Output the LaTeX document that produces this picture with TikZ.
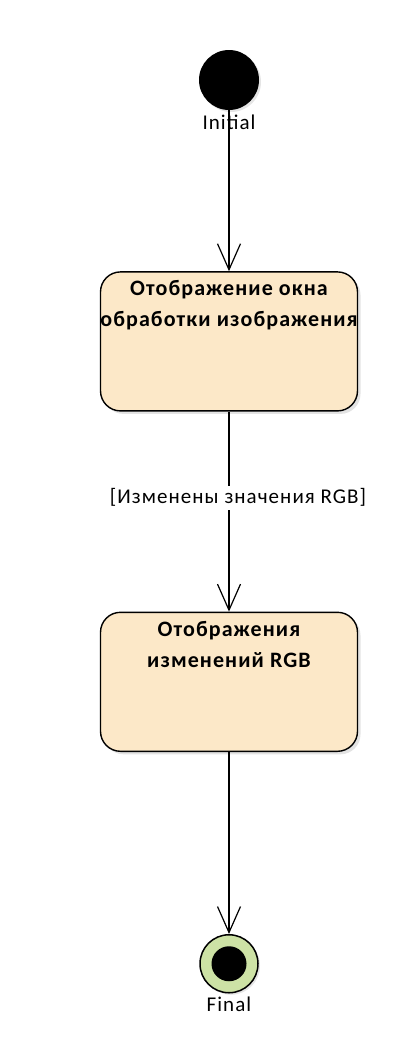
\documentclass[tikz,border=0pt]{standalone}
\usepackage{fontspec}
\setmainfont{Carlito}[LetterSpace=5]
\usepackage{xcolor}
\usetikzlibrary{arrows.meta, positioning, shadows}
\definecolor{peche}{RGB}{252,232,200}
\definecolor{vertfin}{RGB}{205,226,165}
\tikzstyle{etat} = [rectangle, rounded corners=20pt, minimum width=257pt, minimum height=139pt, draw=black, line width=1.4pt, fill=peche, drop shadow={shadow xshift=3pt, shadow yshift=-3pt, fill=black!22}]
\tikzstyle{titre} = [anchor=north, yshift=-6pt, align=center, font=\bfseries\fontsize{22}{31}\selectfont]
\tikzstyle{fleche} = [line width=1.2pt, -{Straight Barb[length=26pt, width=23pt, line width=1.2pt]}]
\begin{document}
\begin{tikzpicture}[x=1pt, y=-1pt, font=\fontsize{21}{25}\selectfont]
\useasboundingbox (0,0) rectangle (414,1053);
\node (init) [circle, fill=black, minimum size=60pt, inner sep=0pt, drop shadow={shadow xshift=2pt, shadow yshift=-2pt, fill=black!20}, label={[inner sep=5pt]below:Initial}] at (229,80) {} ;

\node (ecran) [etat, below=161pt of init, label={[titre]north:Отображение окна\\обработки изображения}] {} ;
\node (rgb) [etat, below=200pt of ecran, label={[titre]north:Отображения\\изменений RGB}] {} ;

\node (final) [circle, draw=black, line width=1.5pt, fill=vertfin, minimum size=58pt, inner sep=0pt, below=182pt of rgb, drop shadow={shadow xshift=2pt, shadow yshift=-2pt, fill=black!20}, label={[inner sep=3pt]below:Final}] {} ;
\node (finalc) [circle, fill=black, minimum size=35pt, inner sep=0pt] at (final) {} ;

\draw[fleche] (init) -- (ecran) ;
\draw[fleche] (ecran) -- node[fill=white, pos=0.43, xshift=9pt, inner sep=3pt] {[Изменены значения RGB]} (rgb) ;
\draw[fleche] (rgb) -- (final) ;
\end{tikzpicture}
\end{document}
